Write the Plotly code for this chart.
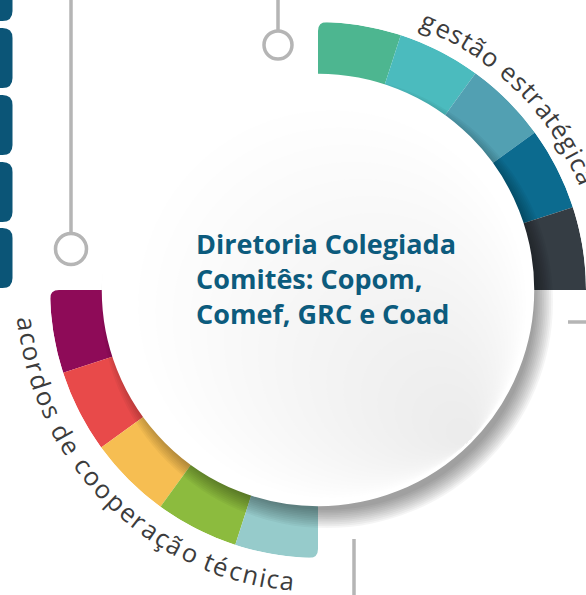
import math
import plotly.graph_objects as go

W, H = 586, 595

# ---- data ----
center_title = ["Diretoria Colegiada", "Comitês: Copom,", "Comef, GRC e Coad"]
group_labels = ["gestão estratégica", "acordos de cooperação técnica"]
gestao_values = [1, 1, 1, 1, 1]
acordos_values = [1, 1, 1, 1, 1]
gestao_colors = ["#4DB690", "#4BBBBE", "#52A0B2", "#0C6B8F", "#353D44"]
acordos_colors = ["#8E0B58", "#E84A4A", "#F6BE52", "#8CBB3E", "#96CBCB"]

# ---- layout geometry (pixels) ----
CX, CY = 318, 290
R_OUT = 268
R_IN = 150
R_WHITE = 215


def px(x):
    return x / W


def py(y):
    return 1 - y / H


def arc_positions(values, start, end):
    total = sum(values)
    span = end - start
    thetas, widths, acc = [], [], 0
    for v in values:
        thetas.append(start + span * (acc + v / 2) / total)
        widths.append(abs(span) * v / total)
        acc += v
    return thetas, widths


fig = go.Figure()

for vals, cols, (a0, a1) in [(gestao_values, gestao_colors, (90, 0)),
                             (acordos_values, acordos_colors, (180, 270))]:
    th, wd = arc_positions(vals, a0, a1)
    fig.add_trace(go.Barpolar(
        r=[R_OUT - R_IN] * len(vals), base=[R_IN] * len(vals),
        theta=th, width=wd,
        marker=dict(color=cols, line=dict(width=0)),
        hoverinfo="skip", showlegend=False,
    ))

shapes = []


def circle(cx, cy, r, fill="rgba(0,0,0,0)", line_color=None, line_width=0):
    return dict(type="circle", xref="paper", yref="paper", layer="above",
                x0=px(cx - r), x1=px(cx + r), y0=py(cy + r), y1=py(cy - r),
                fillcolor=fill,
                line=dict(color=line_color or "rgba(0,0,0,0)", width=line_width))


def seg(x0, y0, x1, y1, color="#B5B5B5", width=3.5):
    return dict(type="line", xref="paper", yref="paper", layer="above",
                x0=px(x0), x1=px(x1), y0=py(y0), y1=py(y1),
                line=dict(color=color, width=width))


def corner_mask(x, y, dx, dy, rr=9):
    # white rounding of an outer ring corner at (x, y)
    path = (f"M {px(x)} {py(y)} L {px(x + dx * rr)} {py(y)} "
            f"Q {px(x)} {py(y)} {px(x)} {py(y + dy * rr)} Z")
    return dict(type="path", xref="paper", yref="paper", layer="above",
                path=path, fillcolor="white", line=dict(width=0))


shapes.append(corner_mask(CX, CY - R_OUT, 1, 1))
shapes.append(corner_mask(CX - R_OUT, CY, 1, 1))
shapes.append(corner_mask(CX, CY + R_OUT, -1, -1))

# drop shadow (towards bottom-right)
for i in range(11):
    shapes.append(circle(CX + 9, CY + 12, R_WHITE + 11 - i * 1.8, fill="rgba(0,0,0,0.04)"))

# disc: white base, greyed towards the bottom-right by tangent layers
shapes.append(circle(CX, CY, R_WHITE, fill="#FFFFFF", line_color="#FFFFFF", line_width=2.5))
d = 1 / math.sqrt(2)
for k in range(19):
    s = 20 + k * 10
    shapes.append(circle(CX + s * d, CY + s * d, R_WHITE - 1.3 - s,
                         fill="rgba(160,162,163,0.012)"))

# grey connector lines
shapes.append(seg(71, -2, 71, 233))
shapes.append(circle(71, 249, 15.5, line_color="#B5B5B5", line_width=3.5))
shapes.append(seg(278, -2, 278, 30))
shapes.append(circle(278, 45, 14, line_color="#B5B5B5", line_width=3.5))
shapes.append(seg(354, 539, 354, 600))
shapes.append(seg(568, 322, 590, 322))

# blue tabs on the left
for (y0, y1) in [(-39, 21), (28, 88), (95, 155), (162, 222), (228, 288)]:
    x0, x1, rr = -5, 12.5, 10
    path = (f"M {px(x0)} {py(y0)} L {px(x1 - rr)} {py(y0)} "
            f"Q {px(x1)} {py(y0)} {px(x1)} {py(y0 + rr)} "
            f"L {px(x1)} {py(y1 - rr)} Q {px(x1)} {py(y1)} {px(x1 - rr)} {py(y1)} "
            f"L {px(x0)} {py(y1)} Z")
    shapes.append(dict(type="path", xref="paper", yref="paper", layer="above",
                       path=path, fillcolor="#0B5577", line=dict(width=0)))

annotations = []

# curved labels
CW = {'a': 0.556, 'b': 0.613, 'c': 0.480, 'd': 0.613, 'e': 0.561, 'g': 0.547,
      'i': 0.258, 'm': 0.931, 'n': 0.613, 'o': 0.602, 'p': 0.613, 'r': 0.408,
      's': 0.477, 't': 0.361, 'ç': 0.480, 'ã': 0.556, 'é': 0.561, ' ': 0.260}


def curved(text, th_first, th_last, radius, top, size=25.5, color="#3C3C3C"):
    centers, acc = [], 0
    for ch in text:
        w = CW.get(ch, 0.55)
        centers.append(acc + w / 2)
        acc += w
    c0, c1 = centers[0], centers[-1]
    for ch, c in zip(text, centers):
        if ch == " ":
            continue
        th = th_first + (th_last - th_first) * (c - c0) / (c1 - c0)
        t = math.radians(th)
        x = CX + radius * math.cos(t)
        y = CY - radius * math.sin(t)
        ang = (90 - th) if top else (270 - th)
        annotations.append(dict(
            x=px(x), y=py(y), xref="paper", yref="paper", text=ch,
            showarrow=False, xanchor="center", yanchor="middle",
            textangle=ang, font=dict(family="Open Sans", size=size, color=color)))


curved(group_labels[0], 67.5, 23.0, 291, True)
curved(group_labels[1], 186.6, 264.0, 292, False)

annotations.append(dict(
    x=px(194), y=py(278), xref="paper", yref="paper",
    text="<br>".join(center_title), showarrow=False,
    xanchor="left", yanchor="middle", align="left",
    font=dict(family="Open Sans", size=27, color="#0C5B7D", weight=700)))

fig.update_layout(
    width=W, height=H, margin=dict(l=0, r=0, t=0, b=0),
    paper_bgcolor="white", plot_bgcolor="white",
    showlegend=False,
    polar=dict(
        domain=dict(x=[px(CX - R_OUT), px(CX + R_OUT)],
                    y=[py(CY + R_OUT), py(CY - R_OUT)]),
        bgcolor="rgba(0,0,0,0)", hole=0,
        radialaxis=dict(range=[0, R_OUT], visible=False),
        angularaxis=dict(rotation=0, direction="counterclockwise", visible=False),
        bargap=0,
    ),
    shapes=shapes, annotations=annotations,
)

fig.write_html("out.html", config={"displayModeBar": False},
               post_script="document.body.style.margin='0';document.body.style.overflow='hidden';")
